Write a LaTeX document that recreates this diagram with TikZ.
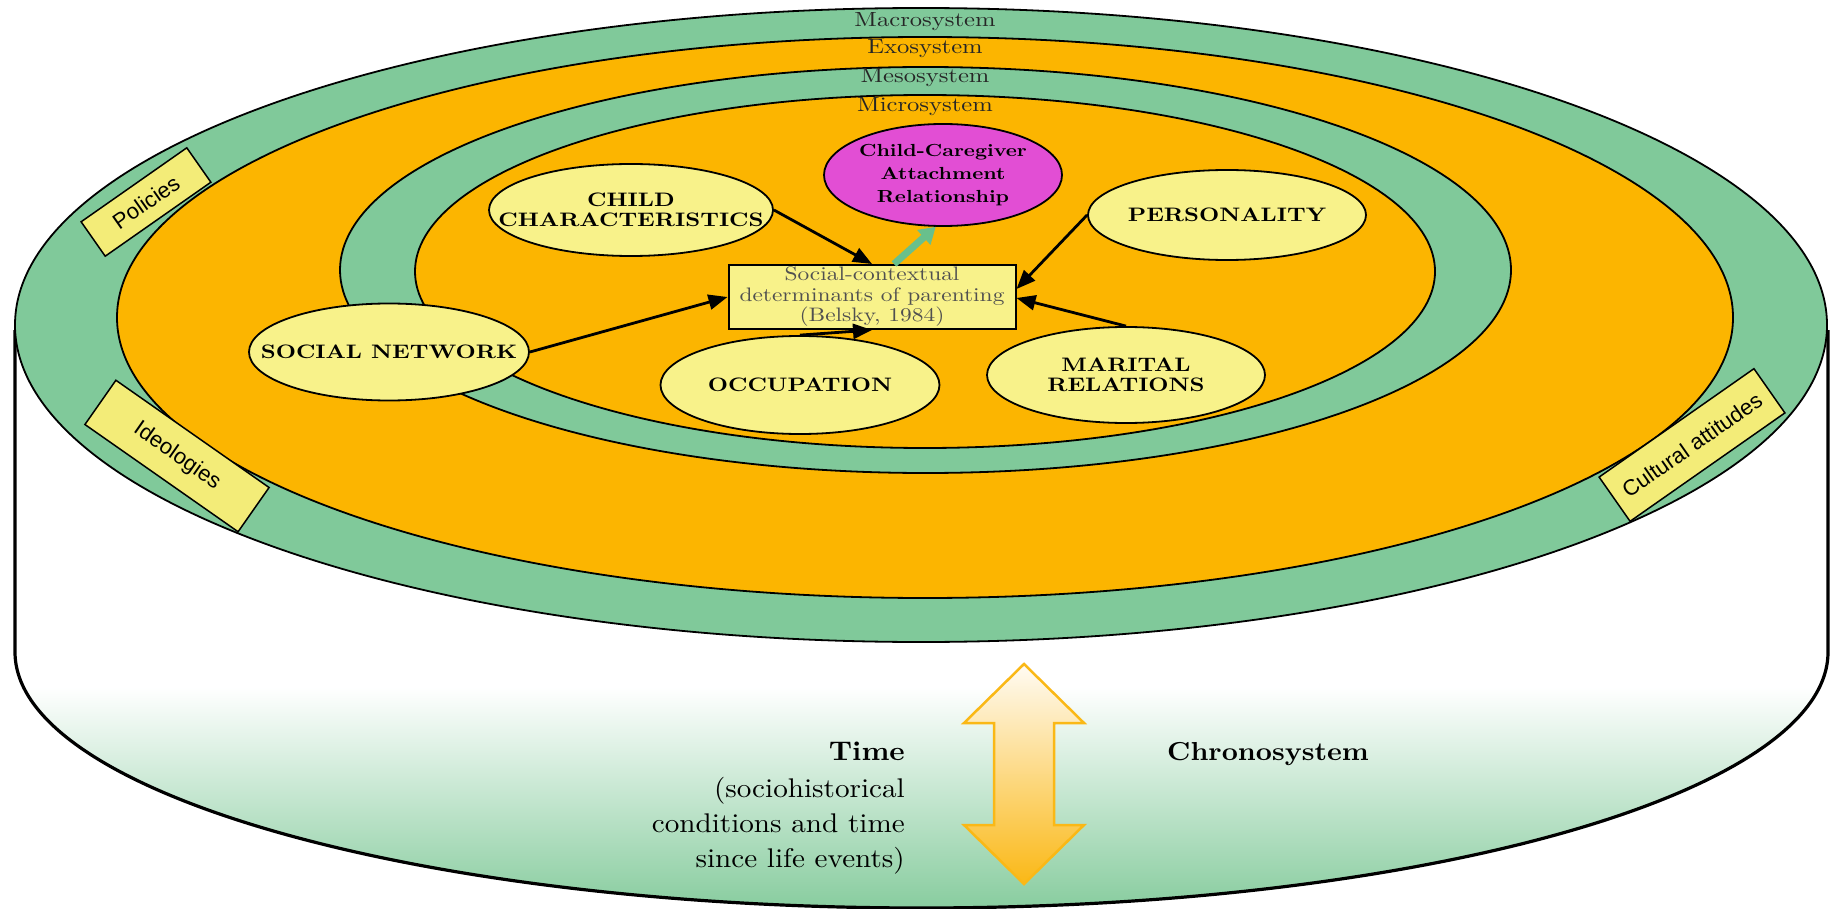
\documentclass[tikz,border=0pt]{standalone}
\usepackage{fontspec}
\usetikzlibrary{arrows.meta,shapes.geometric,calc}

% Garamond-like wide serif for the model, slightly wider serif for the time axis
\newfontfamily\widefont{lmroman10-regular.otf}[BoldFont=lmroman10-bold.otf,FakeStretch=1.2]
\newfontfamily\cylfont{lmroman10-regular.otf}[BoldFont=lmroman10-bold.otf,FakeStretch=1.08]
\newfontfamily\tagfont{Liberation Sans}

\definecolor{ringgreen}{RGB}{128,201,154}
\definecolor{ringorange}{RGB}{252,181,0}
\definecolor{pale}{RGB}{248,242,138}
\definecolor{tagyellow}{RGB}{243,236,120}
\definecolor{attach}{RGB}{226,78,212}
\definecolor{linkgreen}{RGB}{104,192,140}
\definecolor{chrono}{RGB}{135,204,158}
\definecolor{timeorange}{RGB}{250,184,22}
\definecolor{timelight}{RGB}{255,251,243}
\definecolor{boxtext}{RGB}{80,80,80}

\tikzset{
  ring/.style={draw=black,line width=1.8pt},
  factor/.style={ellipse,draw=black,line width=1.8pt,fill=pale,inner sep=0pt},
  factortext/.style={align=center,inner sep=0pt,
    font=\widefont\bfseries\fontsize{19.5}{20.5}\selectfont},
  ringlabel/.style={inner sep=0pt,text=black!85,
    font=\widefont\fontsize{20.5}{21}\selectfont},
  tag/.style={draw=black,line width=1.5pt,fill=tagyellow,inner sep=0pt,
    font=\tagfont\fontsize{22}{24}\selectfont},
  arr/.style={-{Triangle[length=19pt,width=15pt]},line width=2.8pt,black},
  timetext/.style={anchor=base east,inner sep=0pt,
    font=\cylfont\fontsize{27}{30}\selectfont},
}

\begin{document}
\begin{tikzpicture}[x=1pt,y=-1pt]
\useasboundingbox (0,0) rectangle (1830,909);

% cylinder body (chronosystem)
\path[fill=white] (15,325) -- (15,652)
  arc[start angle=180,end angle=0,x radius=906.5,y radius=256] -- (1828,325) -- cycle;
\begin{scope}
  \clip (15,325) -- (15,652)
    arc[start angle=180,end angle=0,x radius=906.5,y radius=256] -- (1828,325) -- cycle;
  \shade[top color=white,bottom color=chrono] (0,687) rectangle (1830,910);
\end{scope}
\draw[line width=3.2pt,line join=round] (15,330) -- (15,652)
  arc[start angle=180,end angle=0,x radius=906.5,y radius=256] -- (1828,330);

% nested systems
\draw[ring,fill=ringgreen]  (921,325)   ellipse[x radius=906,y radius=317];
\draw[ring,fill=ringorange] (925,317.5) ellipse[x radius=808,y radius=280.5];
\draw[ring,fill=ringgreen]  (925.5,270) ellipse[x radius=585.5,y radius=203];
\draw[ring,fill=ringorange] (925,271.5) ellipse[x radius=510,y radius=176.5];

\node[ringlabel] (lmacro) at (925,22)  {Macrosystem};
\node[ringlabel] (lexo)   at (925,49)  {Exosystem};
\node[ringlabel] (lmeso)  at (925,78)  {Mesosystem};
\node[ringlabel] (lmicro) at (925,107) {Microsystem};

% macrosystem tags
\node[tag,minimum width=129pt,minimum height=42pt,rotate=35]  (pol) at (146,202)  {Policies};
\node[tag,minimum width=187pt,minimum height=54pt,rotate=-35] (ide) at (177,456)  {Ideologies};
\node[tag,minimum width=189pt,minimum height=54pt,rotate=35]  (cul) at (1692,445) {Cultural attitudes};

% determinants of parenting
\node[factor,minimum width=284pt,minimum height=92pt] (cc) at (631,210) {};
\node[factortext] (cct) at (cc) {CHILD\\CHARACTERISTICS};
\node[factor,fill=attach,minimum width=238pt,minimum height=102pt] (cg) at (943,175) {};
\node[factortext,font=\widefont\bfseries\fontsize{17.5}{23}\selectfont] (cgt) at (cg)
  {Child-Caregiver\\Attachment\\Relationship};
\node[factor,minimum width=278pt,minimum height=90pt] (pers) at (1227,215) {};
\node[factortext] (perst) at (pers) {PERSONALITY};
\node[factor,minimum width=278pt,minimum height=96pt] (mar) at (1126,375) {};
\node[factortext] (mart) at (mar) {MARITAL\\RELATIONS};
\node[factor,minimum width=279pt,minimum height=98pt] (occ) at (800,385) {};
\node[factortext] (occt) at (occ) {OCCUPATION};
\node[factor,minimum width=280pt,minimum height=97pt] (sn) at (389,352) {};
\node[factortext] (snt) at (sn) {SOCIAL NETWORK};

\node[draw=black,line width=2pt,fill=pale,minimum width=287pt,minimum height=64pt,
      inner sep=0pt,align=center,text=boxtext,
      font=\widefont\fontsize{19.5}{20.5}\selectfont] (det) at (872,297)
  {Social-contextual\\determinants of parenting\\(Belsky, 1984)};

% influences
\draw[arr] (sn.east) -- (det.west);
\draw[arr] (cc.east) -- (det.north);
\draw[arr] (occ.north) -- (det.south);
\draw[arr] (pers.west) -- ([yshift=8pt]det.east);
\draw[arr] (mar.north) -- ([yshift=-1pt]det.east);
\draw[linkgreen,line width=7pt,-{Triangle[length=16pt,width=19pt]}]
  ([xshift=22pt]det.north) -- (cg.262);

% time axis
\draw[draw=timeorange,line width=2.5pt,line join=miter,
      top color=timelight,bottom color=timeorange]
  (1024,664) -- (1084,723) -- (1054,723) -- (1054,825) -- (1084,825)
  -- (1024,884) -- (964,825) -- (994,825) -- (994,723) -- (964,723) -- cycle;

\node[timetext,font=\cylfont\bfseries\fontsize{27}{30}\selectfont] (t1) at (905,760) {Time};
\node[timetext] (t2) at (905,797) {(sociohistorical};
\node[timetext] (t3) at (905,832) {conditions and time};
\node[timetext] (t4) at (905,867) {since life events)};
\node[anchor=base west,inner sep=0pt,
      font=\cylfont\bfseries\fontsize{26}{30}\selectfont] (chr) at (1167,760) {Chronosystem};
\end{tikzpicture}
\end{document}
